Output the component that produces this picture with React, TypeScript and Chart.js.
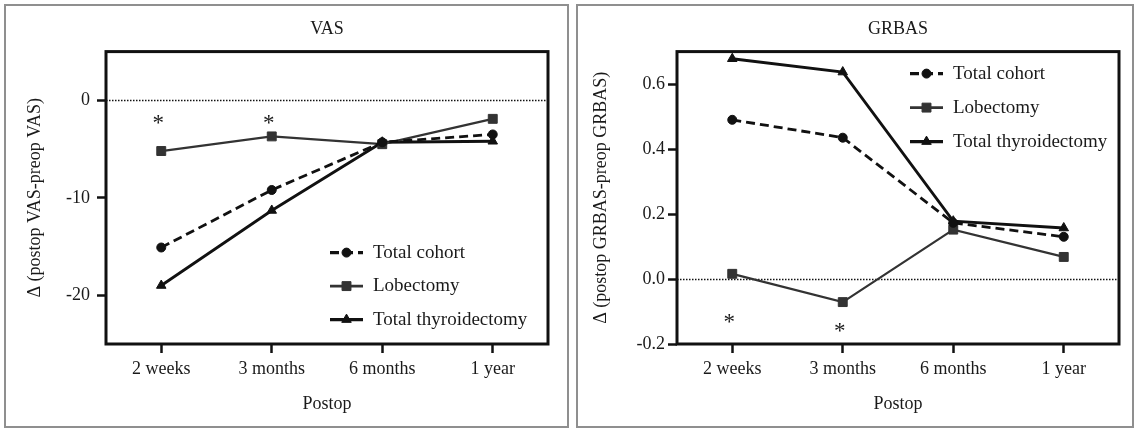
import React, { useEffect, useRef } from "react";
import { Chart, registerables } from "chart.js";
Chart.register(...registerables);

const categories = ["2 weeks", "3 months", "6 months", "1 year"];
const seriesNames = ["Total cohort", "Lobectomy", "Total thyroidectomy"];

const vasTotalCohort = [-15.1, -9.2, -4.3, -3.5];
const vasLobectomy = [-5.2, -3.7, -4.5, -1.9];
const vasTotalThyroidectomy = [-19.0, -11.3, -4.3, -4.2];

const grbasTotalCohort = [0.49, 0.435, 0.173, 0.13];
const grbasLobectomy = [0.016, -0.071, 0.152, 0.068];
const grbasTotalThyroidectomy = [0.678, 0.637, 0.178, 0.157];

const vasTicks = [-20, -10, 0];
const grbasTicks = [-0.2, 0, 0.2, 0.4, 0.6];

const vasStarCategories = ["2 weeks", "3 months"];
const vasStarValues = [-1.75, -1.75];
const grbasStarCategories = ["2 weeks", "3 months"];
const grbasStarValues = [-0.115, -0.144];

const FONT = "'Liberation Serif', 'Times New Roman', serif";
const TEXT = "#1a1a1a";
const INK = "#111";
const GRAY = "#333";

function drawMarker(ctx: CanvasRenderingContext2D, style: string, x: number, y: number, r: number, color: string) {
  ctx.save();
  ctx.fillStyle = color;
  ctx.strokeStyle = color;
  ctx.lineWidth = 1;
  ctx.setLineDash([]);
  ctx.beginPath();
  if (style === "circle") {
    ctx.arc(x, y, r, 0, Math.PI * 2);
  } else if (style === "rect") {
    const s = r * Math.SQRT1_2;
    ctx.rect(x - s, y - s, 2 * s, 2 * s);
  } else {
    const h = (r * 3) / 2;
    const side = r * Math.sqrt(3);
    ctx.moveTo(x - side / 2, y + h / 3);
    ctx.lineTo(x + side / 2, y + h / 3);
    ctx.lineTo(x, y - (2 * h) / 3);
    ctx.closePath();
  }
  ctx.fill();
  ctx.stroke();
  ctx.restore();
}

const framePlugin = {
  id: "frame",
  beforeDatasetsDraw(chart: any) {
    const { ctx, chartArea: a } = chart;
    const y = chart.scales.y;
    ctx.save();
    const y0 = Math.round(y.getPixelForValue(0)) + 0.5;
    ctx.setLineDash([1.5, 1.5]);
    ctx.lineWidth = 1.5;
    ctx.strokeStyle = "#111";
    ctx.beginPath();
    ctx.moveTo(a.left, y0);
    ctx.lineTo(a.right, y0);
    ctx.stroke();
    ctx.setLineDash([]);
    ctx.lineWidth = 3;
    ctx.strokeStyle = INK;
    ctx.strokeRect(a.left, a.top, a.right - a.left, a.bottom - a.top);
    ctx.restore();
  },
};

const starsPlugin = {
  id: "stars",
  afterDatasetsDraw(chart: any, _args: any, opts: any) {
    if (!opts || !opts.categories) return;
    const { ctx } = chart;
    const xs = chart.scales.x;
    const ys = chart.scales.y;
    const size = 23;
    ctx.save();
    ctx.font = `${size}px ${FONT}`;
    ctx.fillStyle = TEXT;
    ctx.textAlign = "center";
    ctx.textBaseline = "alphabetic";
    opts.categories.forEach((c: string, i: number) => {
      const px = xs.getPixelForValue(categories.indexOf(c)) - 3;
      const py = ys.getPixelForValue(opts.values[i]);
      ctx.fillText("*", px, py + size * 0.55);
    });
    ctx.restore();
  },
};

const innerLegendPlugin = {
  id: "innerLegend",
  afterDraw(chart: any, _args: any, opts: any) {
    if (!opts) return;
    const { ctx, chartArea: a } = chart;
    ctx.save();
    chart.data.datasets.forEach((ds: any, i: number) => {
      const y = a.top + opts.y + i * opts.gap;
      const x0 = a.left + opts.x;
      const x1 = x0 + 33;
      ctx.strokeStyle = ds.borderColor;
      ctx.lineWidth = ds.borderWidth + 0.4;
      ctx.setLineDash(ds.borderDash || []);
      ctx.beginPath();
      ctx.moveTo(x0, y);
      ctx.lineTo(x1, y);
      ctx.stroke();
      ctx.setLineDash([]);
      drawMarker(ctx, ds.pointStyle, (x0 + x1) / 2, y, ds.pointRadius, ds.pointBackgroundColor);
      ctx.font = `19px ${FONT}`;
      ctx.fillStyle = TEXT;
      ctx.textAlign = "left";
      ctx.textBaseline = "middle";
      ctx.fillText(ds.label, x1 + 10, y);
    });
    ctx.restore();
  },
};

function makeDatasets(tc: number[], lob: number[], tt: number[]) {
  return [
    {
      label: seriesNames[0],
      data: tc,
      borderColor: INK,
      backgroundColor: INK,
      pointBackgroundColor: INK,
      pointBorderColor: INK,
      borderWidth: 2.8,
      borderDash: [9, 5],
      pointStyle: "circle",
      pointRadius: 4.5,
      pointBorderWidth: 1,
    },
    {
      label: seriesNames[1],
      data: lob,
      borderColor: GRAY,
      backgroundColor: GRAY,
      pointBackgroundColor: GRAY,
      pointBorderColor: GRAY,
      borderWidth: 2.3,
      pointStyle: "rect",
      pointRadius: 6.3,
      pointBorderWidth: 1,
    },
    {
      label: seriesNames[2],
      data: tt,
      borderColor: INK,
      backgroundColor: INK,
      pointBackgroundColor: INK,
      pointBorderColor: INK,
      borderWidth: 2.8,
      pointStyle: "triangle",
      pointRadius: 5.5,
      pointBorderWidth: 1,
    },
  ];
}

function makeConfig(p: any) {
  const tickGrid = {
    drawOnChartArea: false,
    drawTicks: true,
    tickLength: 9,
    tickWidth: 2.5,
    tickColor: INK,
    offset: false,
  };
  return {
    type: "line",
    data: { labels: categories, datasets: p.datasets },
    plugins: [framePlugin, starsPlugin, innerLegendPlugin],
    options: {
      responsive: false,
      animation: false,
      devicePixelRatio: 1,
      layout: { padding: { left: 0, right: p.padRight, top: 0, bottom: 0 } },
      elements: { line: { tension: 0 } },
      plugins: {
        legend: { display: false },
        tooltip: { enabled: false },
        title: {
          display: true,
          text: p.title,
          fullSize: false,
          color: TEXT,
          font: { family: FONT, size: 18, weight: "normal", lineHeight: 1.2 },
          padding: { top: 12, bottom: 12 },
        },
        stars: { categories: p.starCats, values: p.starVals },
        innerLegend: p.legend,
      },
      scales: {
        x: {
          type: "category",
          offset: true,
          grid: tickGrid,
          border: { display: false },
          ticks: { color: TEXT, font: { family: FONT, size: 18, lineHeight: 1.2 }, padding: 5, maxRotation: 0, autoSkip: false },
          title: {
            display: true,
            text: "Postop",
            color: TEXT,
            font: { family: FONT, size: 18, lineHeight: 1.2 },
            padding: { top: 0, bottom: 11 },
          },
          afterFit: (s: any) => {
            s.height = 82;
          },
        },
        y: {
          type: "linear",
          min: p.min,
          max: p.max,
          afterBuildTicks: (s: any) => {
            s.ticks = p.ticks.map((v: number) => ({ value: v }));
          },
          grid: tickGrid,
          border: { display: false },
          ticks: {
            color: TEXT,
            font: { family: FONT, size: 18, lineHeight: 1.2 },
            padding: p.tickPad,
            callback: p.fmt,
          },
          title: {
            display: true,
            text: p.yTitle,
            color: TEXT,
            font: { family: FONT, size: 18, lineHeight: 1.2 },
            padding: { top: p.yTitlePad, bottom: 0 },
          },
          afterFit: (s: any) => {
            s.width = p.yWidth;
          },
        },
      },
    },
  } as any;
}

export default function App() {
  const leftRef = useRef<HTMLCanvasElement>(null);
  const rightRef = useRef<HTMLCanvasElement>(null);

  useEffect(() => {
    const left = new Chart(
      leftRef.current as HTMLCanvasElement,
      makeConfig({
        title: "VAS",
        datasets: makeDatasets(vasTotalCohort, vasLobectomy, vasTotalThyroidectomy),
        min: -25,
        max: 5,
        ticks: vasTicks,
        fmt: (v: number) => String(v),
        yTitle: "Δ (postop VAS-preop VAS)",
        yWidth: 100,
        yTitlePad: 18,
        tickPad: 7,
        padRight: 19,
        starCats: vasStarCategories,
        starVals: vasStarValues,
        legend: { x: 224, y: 201, gap: 33.5 },
      })
    );
    const right = new Chart(
      rightRef.current as HTMLCanvasElement,
      makeConfig({
        title: "GRBAS",
        datasets: makeDatasets(grbasTotalCohort, grbasLobectomy, grbasTotalThyroidectomy),
        min: -0.2,
        max: 0.7,
        ticks: grbasTicks,
        fmt: (v: number) => Number(v).toFixed(1),
        yTitle: "Δ (postop GRBAS-preop GRBAS)",
        yWidth: 99,
        yTitlePad: 12,
        tickPad: 3,
        padRight: 13,
        starCats: grbasStarCategories,
        starVals: grbasStarValues,
        legend: { x: 233, y: 22, gap: 34 },
      })
    );
    return () => {
      left.destroy();
      right.destroy();
    };
  }, []);

  const panel: React.CSSProperties = {
    position: "absolute",
    top: 4,
    height: 424,
    border: "2px solid #8f8f8f",
    boxSizing: "border-box",
    background: "#fff",
  };

  return (
    <div style={{ position: "absolute", left: 0, top: 0, width: 1134, height: 429, background: "#fff" }}>
      <div style={{ ...panel, left: 4, width: 565 }}>
        <canvas ref={leftRef} width={561} height={420} style={{ display: "block" }} />
      </div>
      <div style={{ ...panel, left: 576, width: 558 }}>
        <canvas ref={rightRef} width={554} height={420} style={{ display: "block" }} />
      </div>
    </div>
  );
}
